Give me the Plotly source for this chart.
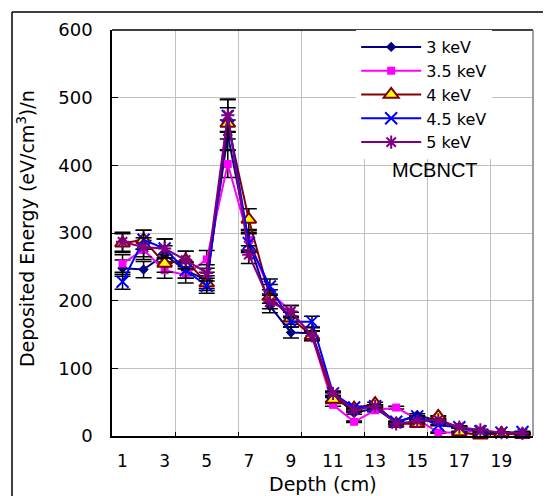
import plotly.graph_objects as go

# ── DATA ────────────────────────────────────────────────────
depth = list(range(1, 21))
depth_ticks = [1, 3, 5, 7, 9, 11, 13, 15, 17, 19]
grid_x = [3.5, 6.5, 9.5, 12.5, 15.5, 18.5]

e3_kev = [248, 246, 268, 245, 230, 445, 287, 192, 153, 152, 61, 34, 41, 20, 31, 22, 14, 4, 4, 3]
e35_kev = [255, 275, 245, 238, 261, 402, 290, 213, 184, 148, 46, 21, 38, 42, 25, 5, 5, 8, 4, 3]
e4_kev = [285, 290, 255, 260, 226, 462, 320, 206, 174, 148, 54, 41, 48, 18, 18, 29, 6, 1, 4, 2]
e45_kev = [228, 290, 277, 245, 222, 473, 285, 221, 169, 169, 63, 42, 44, 21, 29, 16, 13, 7, 5, 6]
e5_kev = [287, 279, 277, 260, 241, 474, 268, 198, 184, 148, 63, 38, 44, 18, 22, 24, 13, 9, 5, 4]

err3 = [12, 12, 13, 12, 12, 22, 14, 10, 8, 8, 3, 2, 2, 1, 2, 1, 1, 1, 1, 1]
err35 = [13, 14, 12, 12, 13, 20, 15, 11, 9, 7, 2, 1, 2, 2, 1, 1, 1, 1, 1, 1]
err4 = [14, 14, 13, 13, 11, 23, 16, 10, 9, 7, 3, 2, 2, 1, 1, 1, 1, 1, 1, 1]
err45 = [11, 14, 14, 12, 11, 24, 14, 11, 8, 8, 3, 2, 2, 1, 1, 1, 1, 1, 1, 1]
err5 = [14, 14, 14, 13, 12, 24, 13, 10, 9, 7, 3, 2, 2, 1, 1, 1, 1, 1, 1, 1]

series = [
    ("3 keV", e3_kev, err3, "#000080", dict(symbol="diamond", size=8, color="#000080")),
    ("3.5 keV", e35_kev, err35, "#FF00FF", dict(symbol="square", size=8, color="#FF00FF")),
    ("4 keV", e4_kev, err4, "#800000",
     dict(symbol="triangle-up", size=13, color="#FFFF00", line=dict(color="#800000", width=2))),
    ("4.5 keV", e45_kev, err45, "#0000FF",
     dict(symbol="x-thin-open", size=12, color="#0000FF", line=dict(color="#0000FF", width=2))),
    ("5 keV", e5_kev, err5, "#800080",
     dict(symbol="asterisk-open", size=11, color="#800080", line=dict(color="#800080", width=2))),
]

FONT = "DejaVu Sans"

fig = go.Figure()
for name, vals, errs, col, mk in series:
    fig.add_trace(go.Scatter(
        x=depth, y=vals, name=name, mode="lines+markers",
        line=dict(color=col, width=2), marker=mk,
        error_y=dict(type="data", array=errs, visible=True, color="black", thickness=1.5, width=8),
        cliponaxis=False,
    ))

# page body adds an 8px margin, so the figure is 8px smaller than the window
fig.update_layout(
    width=543, height=488,
    margin=dict(l=104, r=18, t=22, b=60),
    paper_bgcolor="white", plot_bgcolor="white",
    font=dict(family=FONT, size=18, color="black"),
    showlegend=True,
    legend=dict(x=0.58, y=1.0, xanchor="left", yanchor="top",
                bgcolor="white", borderwidth=0, tracegroupgap=0,
                font=dict(family=FONT, size=16), itemwidth=60),
    xaxis=dict(range=[0.5, 20.5], tickvals=depth_ticks, showgrid=False, zeroline=False,
               showline=True, linecolor="black", linewidth=1.5, ticks="",
               ticklabelstandoff=9, tickfont=dict(size=17),
               minor=dict(tickvals=grid_x, showgrid=True, gridcolor="#c0c0c0", gridwidth=1,
                          ticks="inside", ticklen=4, tickcolor="black")),
    yaxis=dict(range=[0, 600], dtick=100, showgrid=True, gridcolor="#c0c0c0", gridwidth=1,
               zeroline=False, showline=True, linecolor="black", linewidth=1.5,
               ticks="inside", ticklen=6, tickcolor="black",
               ticklabelstandoff=14, tickfont=dict(size=18)),
    annotations=[
        dict(text="MCBNCT", x=0.767, y=0.655, xref="paper", yref="paper", showarrow=False,
             xanchor="center", yanchor="middle", font=dict(family="Liberation Sans", size=20)),
        dict(text="Deposited Energy (eV/cm<sup>3</sup>)/n", x=-0.204, y=0.51, xref="paper", yref="paper",
             xanchor="center", yanchor="middle", textangle=-90, showarrow=False,
             font=dict(family=FONT, size=19)),
        dict(text="Depth (cm)", x=0.5, y=-0.118, xref="paper", yref="paper", showarrow=False,
             xanchor="center", yanchor="middle", font=dict(family=FONT, size=19)),
    ],
    shapes=[
        # plot-area top and right edges
        dict(type="line", xref="paper", yref="paper", x0=0, x1=1, y0=1, y1=1,
             line=dict(color="black", width=1.5)),
        dict(type="line", xref="paper", yref="paper", x0=1, x1=1, y0=0, y1=1,
             line=dict(color="#808080", width=1.5)),
        # outer chart frame
        dict(type="line", xref="paper", yref="paper", x0=-0.2375, x1=1.038, y0=1.0443, y1=1.0443,
             line=dict(color="black", width=1.5)),
        dict(type="line", xref="paper", yref="paper", x0=-0.2375, x1=-0.2375, y0=-0.2, y1=1.0443,
             line=dict(color="black", width=1.5)),
        dict(type="line", xref="paper", yref="paper", x0=1.038, x1=1.038, y0=-0.2, y1=1.0443,
             line=dict(color="#606060", width=2)),
    ],
)

fig.write_html("out.html")
